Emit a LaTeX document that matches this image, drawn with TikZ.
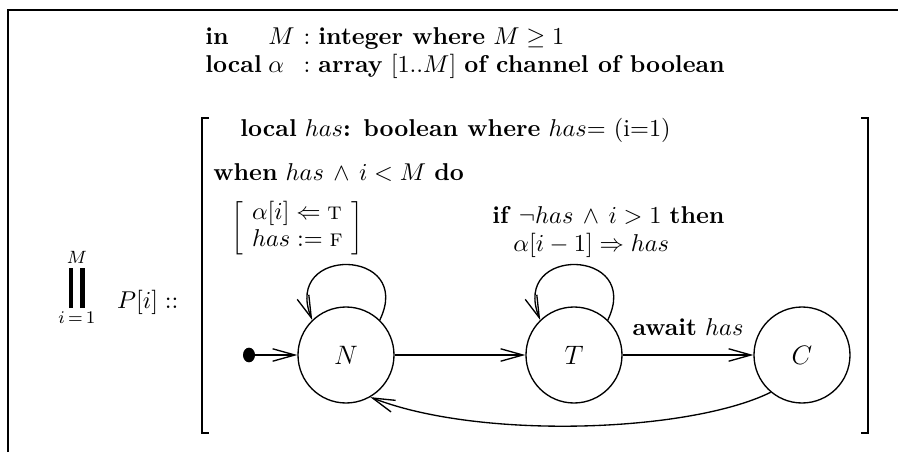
\documentclass[tikz,border=0pt,11pt]{standalone}
\usetikzlibrary{arrows.meta,shapes.geometric}
\begin{document}
\begin{tikzpicture}[x=0.45pt,y=-0.45pt,
  state/.style={circle,draw,line width=0.6pt,minimum size=43.2pt,inner sep=0pt,font=\large},
  edge/.style={line width=0.6pt,-{Straight Barb[length=10pt,width=5.6pt,line width=0.6pt]}},
  frameline/.style={line width=1.1pt,line join=miter},
  brk/.style={line width=0.9pt,line join=miter},
  txt/.style={inner sep=0pt,anchor=west}]
\useasboundingbox (0,0) rectangle (898,452);
% outer frame
\draw[frameline] (8,452) -- (8,10) -- (898,10);
% big brackets
\draw[brk] (209,118) -- (202,118) -- (202,433) -- (209,433);
\draw[brk] (861,118) -- (868,118) -- (868,433) -- (861,433);
% declarations
\node[txt] (decl) at (205,53) {\renewcommand{\arraystretch}{0.9}\begin{tabular}{@{}l@{\hspace{3pt}}l@{\hspace{4pt}}l@{}}\textbf{in} & $M$ & $:$ \textbf{integer where} $M \geq 1$\\ \textbf{local} & $\alpha$ & $:$ \textbf{array} $[1..M]$ \textbf{of channel of boolean}\end{tabular}};
\node[txt] (loc) at (240,130) {\textbf{local} $has$\textbf{: boolean where} $has$= (i=1)};
\node[txt] (when) at (213,173) {\textbf{when} $has \,\wedge\, i < M$ \textbf{do}};
\node[txt,anchor=base west] (act) at (231,234) {\renewcommand{\arraystretch}{0.9}\setlength{\arraycolsep}{4pt}$\smash{\left[\begin{array}{l}\alpha[i] \Leftarrow \textsc{t}\\ has := \textsc{f}\end{array}\right]}$};
\node[txt] (ifc) at (492,215) {\textbf{if} $\neg has \,\wedge\, i > 1$ \textbf{then}};
\node[txt] (recv) at (513,245) {$\alpha[i-1] \Rightarrow has$};
% parallel composition
\node[txt,anchor=base west] (par) at (58,308) {$\displaystyle\mathop{\rule{2.1pt}{18pt}\hspace{3.2pt}\rule{2.1pt}{18pt}}\limits_{i\,=\,1}^{M}\hspace{8pt}P[i] ::$};
% states
\node[state] (N) at (346,355) {$N$};
\node[state] (T) at (574,355) {$T$};
\node[state] (C) at (802,355) {$C$};
\node[ellipse,fill,minimum width=5.4pt,minimum height=6.6pt,inner sep=0pt] (init) at (249,355) {};
% transitions
\draw[edge] (init) -- (N);
\draw[edge] (N) -- (T);
\draw[edge] (T) -- node[midway,yshift=12.6pt,inner sep=0pt] {\textbf{await} $has$} (C);
\draw[edge] (N.46) .. controls +(35,-72) and +(-30,-75) .. (N.134);
\draw[edge] (T.46) .. controls +(35,-72) and +(-30,-75) .. (T.134);
\draw[edge] (C.230) .. controls +(-81,40) and +(110,43) .. (N.300);
\end{tikzpicture}
\end{document}
